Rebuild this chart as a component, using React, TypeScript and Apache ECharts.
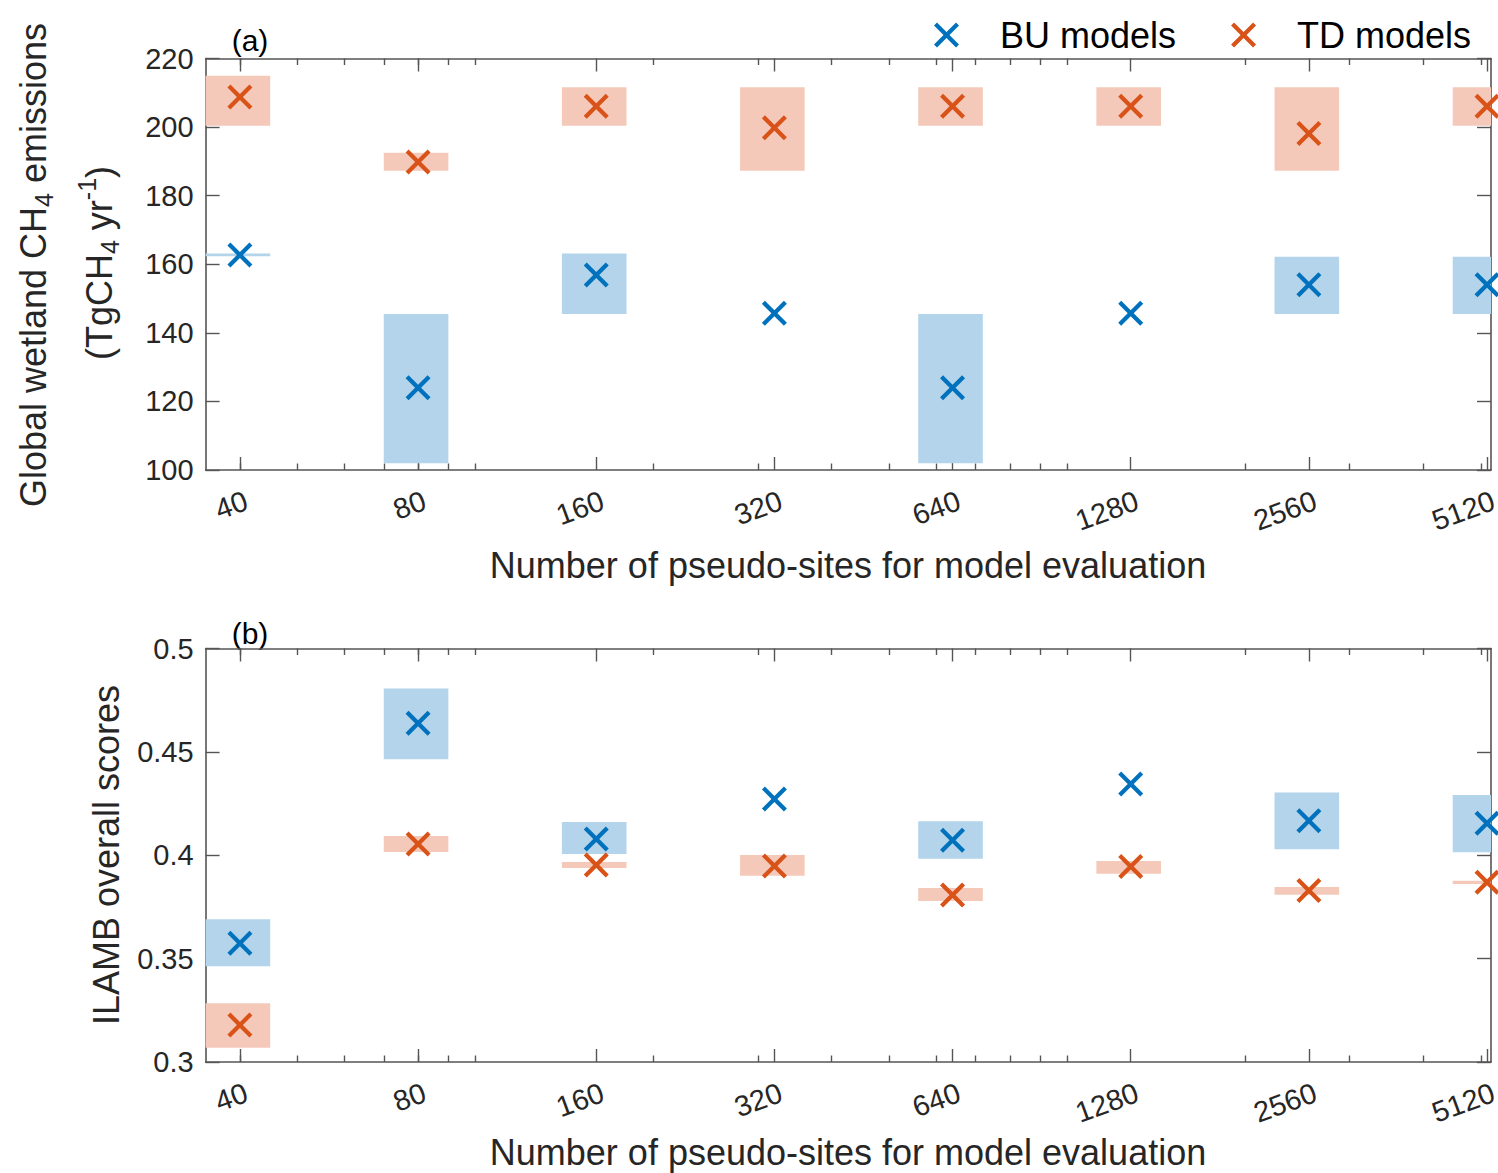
import React, { useEffect, useRef } from 'react';
import * as echarts from 'echarts';

// Number of pseudo-sites used for model evaluation (log-scaled x axis)
const SITE_COUNTS = [40, 80, 160, 320, 640, 1280, 2560, 5120];
const MINOR_TICKS = [40, 50, 60, 70, 80, 90, 100, 200, 300, 400, 500, 600, 700, 800, 900, 1000, 2000, 3000, 4000, 5000];
const X_MIN = 35;
const X_MAX = 5200;

// Panel (a): global wetland CH4 emissions (TgCH4 yr-1)
const EMIS_BU_CENTER = [162.7, 124.0, 156.9, 145.7, 124.0, 145.7, 154.0, 154.0];
const EMIS_BU_LOW = [162.3, 102.0, 145.5, 145.7, 102.0, 145.7, 145.5, 145.5];
const EMIS_BU_HIGH = [163.1, 145.5, 163.1, 145.7, 145.5, 145.7, 162.2, 162.2];
const EMIS_TD_CENTER = [208.8, 189.8, 206.1, 199.8, 206.1, 206.1, 198.1, 206.1];
const EMIS_TD_LOW = [200.4, 187.3, 200.4, 187.3, 200.4, 200.4, 187.3, 200.4];
const EMIS_TD_HIGH = [215.0, 192.5, 211.6, 211.6, 211.6, 211.6, 211.6, 211.6];
const EMIS_RANGE = { min: 100, max: 220, interval: 20 };

// Panel (b): ILAMB overall scores
const SCORE_BU_CENTER = [0.3574, 0.4638, 0.4079, 0.4272, 0.4072, 0.4345, 0.4167, 0.4155];
const SCORE_BU_LOW = [0.3463, 0.4464, 0.4006, 0.4272, 0.3983, 0.4345, 0.4029, 0.4014];
const SCORE_BU_HIGH = [0.369, 0.4807, 0.4161, 0.4272, 0.4164, 0.4345, 0.4303, 0.4291];
const SCORE_TD_CENTER = [0.3179, 0.4054, 0.3953, 0.3948, 0.3808, 0.3945, 0.3829, 0.3869];
const SCORE_TD_LOW = [0.3069, 0.4016, 0.3938, 0.3901, 0.3779, 0.3911, 0.3809, 0.3861];
const SCORE_TD_HIGH = [0.3284, 0.4093, 0.3967, 0.4001, 0.3842, 0.3972, 0.3846, 0.3877];
const SCORE_RANGE = { min: 0.3, max: 0.5, interval: 0.05 };

const FONT = '"Liberation Sans", Arial, Helvetica, sans-serif';
const AXIS_COLOR = '#555555';
const TEXT_COLOR = '#262626';
const BU_COLOR = '#0072BD';
const TD_COLOR = '#D95319';
const BU_FILL = '#B3D4EA';
const TD_FILL = '#F4C9BA';
const BOX_HALF = 0.125; // band half-width, as a fraction of the site count
const X_PATH = 'path://M0,1.2 L1.2,0 L5,3.8 L8.8,0 L10,1.2 L6.2,5 L10,8.8 L8.8,10 L5,6.2 L1.2,10 L0,8.8 L3.8,5 Z';
const TITLE_SIZE = 36;

const lg = (v: number) => Math.log10(v);

const GRIDS = [
  { left: 205.6, top: 58.5, width: 1285.4, height: 411.5 },
  { left: 205.6, top: 648.5, width: 1285.4, height: 413.5 },
];

function xAxesFor(gridIndex: number) {
  const lineStyle = { color: AXIS_COLOR, width: 1.4 };
  const base = {
    type: 'value',
    gridIndex,
    min: lg(X_MIN),
    max: lg(X_MAX),
    splitLine: { show: false },
  };
  const major = SITE_COUNTS.map(lg);
  const minor = MINOR_TICKS.map(lg);
  return [
    {
      ...base,
      position: 'bottom',
      axisLine: { show: true, onZero: false, lineStyle: { color: AXIS_COLOR, width: 1.6 } },
      axisTick: { show: true, inside: true, length: 13, customValues: major, lineStyle },
      axisLabel: {
        show: true,
        customValues: major,
        rotate: 20,
        margin: 32,
        padding: [0, -7, 0, 0],
        fontSize: 29,
        fontFamily: FONT,
        color: TEXT_COLOR,
        formatter: (v: number) => String(Math.round(Math.pow(10, v))),
      },
    },
    {
      ...base,
      position: 'bottom',
      axisLine: { show: false },
      axisTick: { show: true, inside: true, length: 6.5, customValues: minor, lineStyle },
      axisLabel: { show: false },
    },
    {
      ...base,
      position: 'top',
      axisLine: { show: true, onZero: false, lineStyle: { color: AXIS_COLOR, width: 1.6 } },
      axisTick: { show: true, inside: true, length: 13, customValues: major, lineStyle },
      axisLabel: { show: false },
    },
    {
      ...base,
      position: 'top',
      axisLine: { show: false },
      axisTick: { show: true, inside: true, length: 6.5, customValues: minor, lineStyle },
      axisLabel: { show: false },
    },
  ];
}

function yAxesFor(gridIndex: number, range: { min: number; max: number; interval: number }) {
  const lineStyle = { color: AXIS_COLOR, width: 1.4 };
  const base = {
    type: 'value',
    gridIndex,
    min: range.min,
    max: range.max,
    interval: range.interval,
    splitLine: { show: false },
    axisLine: { show: true, onZero: false, lineStyle: { color: AXIS_COLOR, width: 1.6 } },
    axisTick: { show: true, inside: true, length: 14, lineStyle },
  };
  return [
    {
      ...base,
      position: 'left',
      axisLabel: { show: true, margin: 12, fontSize: 29, fontFamily: FONT, color: TEXT_COLOR },
    },
    { ...base, position: 'right', axisLabel: { show: false } },
  ];
}

const bandRenderer = (fill: string) => (params: any, api: any) => {
  const c = api.value(0);
  const lo = api.value(1);
  const hi = api.value(2);
  if (!(hi > lo)) return null;
  const p0 = api.coord([c + lg(1 - BOX_HALF), hi]);
  const p1 = api.coord([c + lg(1 + BOX_HALF), lo]);
  const shape = echarts.graphic.clipRectByRect(
    { x: p0[0], y: p0[1], width: p1[0] - p0[0], height: p1[1] - p0[1] },
    params.coordSys
  );
  if (!shape) return null;
  return { type: 'rect', shape, style: { fill } };
};

function panelSeries(
  gridIndex: number,
  bu: { c: number[]; lo: number[]; hi: number[] },
  td: { c: number[]; lo: number[]; hi: number[] }
) {
  const xAxisIndex = gridIndex * 4;
  const yAxisIndex = gridIndex * 2;
  const band = (name: string, s: { lo: number[]; hi: number[] }, fill: string) => ({
    type: 'custom',
    name,
    xAxisIndex,
    yAxisIndex,
    renderItem: bandRenderer(fill),
    encode: { x: 0, y: [1, 2] },
    data: SITE_COUNTS.map((n, i) => [lg(n), s.lo[i], s.hi[i]]),
    z: 1,
    silent: true,
  });
  const marks = (name: string, s: { c: number[] }, color: string) => ({
    type: 'scatter',
    name,
    xAxisIndex,
    yAxisIndex,
    symbol: X_PATH,
    symbolSize: 25,
    clip: false,
    itemStyle: { color, opacity: 1 },
    data: SITE_COUNTS.map((n, i) => [lg(n), s.c[i]]),
    z: 3,
  });
  return [
    band('BU range', bu, BU_FILL),
    band('TD range', td, TD_FILL),
    marks('BU models', bu, BU_COLOR),
    marks('TD models', td, TD_COLOR),
  ];
}

function rotatedTitle(x: number, y: number, text: string) {
  const main = { fontSize: TITLE_SIZE, fontFamily: FONT, fill: TEXT_COLOR, color: TEXT_COLOR };
  return {
    type: 'text',
    x,
    y,
    rotation: Math.PI / 2,
    silent: true,
    style: {
      text,
      fontSize: TITLE_SIZE,
      fontFamily: FONT,
      fill: TEXT_COLOR,
      align: 'center',
      verticalAlign: 'middle',
      textAlign: 'center',
      textVerticalAlign: 'middle',
      rich: {
        m: main,
        sub: { fontSize: 25, fontFamily: FONT, fill: TEXT_COLOR, color: TEXT_COLOR, padding: [22, 0, 0, 0] },
        sup: { fontSize: 25, fontFamily: FONT, fill: TEXT_COLOR, color: TEXT_COLOR, padding: [0, 0, 24, 0] },
      },
    },
  };
}

function plainText(x: number, y: number, text: string, fontSize: number, fill: string) {
  return {
    type: 'text',
    x,
    y,
    silent: true,
    style: {
      text,
      fontSize,
      fontFamily: FONT,
      fill,
      align: 'center',
      verticalAlign: 'middle',
      textAlign: 'center',
      textVerticalAlign: 'middle',
    },
  };
}

export default function App() {
  const ref = useRef<HTMLDivElement>(null);

  useEffect(() => {
    if (!ref.current) return;
    document.documentElement.style.overflow = 'hidden';
    document.body.style.margin = '0';
    document.body.style.overflow = 'hidden';
    const chart = echarts.init(ref.current, undefined, { renderer: 'svg', width: 1498, height: 1173 });
    const xTitle = 'Number of pseudo-sites for model evaluation';
    chart.setOption({
      animation: false,
      backgroundColor: '#ffffff',
      textStyle: { fontFamily: FONT },
      grid: GRIDS.map((g) => ({ ...g, containLabel: false, outerBoundsMode: 'none' })),
      xAxis: [...xAxesFor(0), ...xAxesFor(1)],
      yAxis: [...yAxesFor(0, EMIS_RANGE), ...yAxesFor(1, SCORE_RANGE)],
      legend: {
        data: [
          { name: 'BU models', icon: X_PATH },
          { name: 'TD models', icon: X_PATH },
        ],
        left: 929,
        top: 12,
        itemWidth: 25,
        itemHeight: 25,
        itemGap: 55,
        selectedMode: false,
        textStyle: { fontSize: TITLE_SIZE, fontFamily: FONT, color: '#000000', padding: [0, 0, 0, 36] },
      },
      graphic: [
        plainText(250, 40, '(a)', 30, '#000000'),
        plainText(250, 633, '(b)', 30, '#000000'),
        plainText(848, 565, xTitle, TITLE_SIZE, TEXT_COLOR),
        plainText(848, 1152, xTitle, TITLE_SIZE, TEXT_COLOR),
        rotatedTitle(33, 265, '{m|Global wetland CH}{sub|4}{m| emissions}'),
        rotatedTitle(99, 263, '{m|(TgCH}{sub|4}{m| yr}{sup|-1}{m|)}'),
        rotatedTitle(106, 855, '{m|ILAMB overall scores}'),
      ],
      series: [
        ...panelSeries(
          0,
          { c: EMIS_BU_CENTER, lo: EMIS_BU_LOW, hi: EMIS_BU_HIGH },
          { c: EMIS_TD_CENTER, lo: EMIS_TD_LOW, hi: EMIS_TD_HIGH }
        ),
        ...panelSeries(
          1,
          { c: SCORE_BU_CENTER, lo: SCORE_BU_LOW, hi: SCORE_BU_HIGH },
          { c: SCORE_TD_CENTER, lo: SCORE_TD_LOW, hi: SCORE_TD_HIGH }
        ),
      ],
    });
    return () => chart.dispose();
  }, []);

  return (
    <div
      ref={ref}
      style={{ position: 'absolute', left: 0, top: 0, width: 1498, height: 1173, background: '#fff' }}
    />
  );
}
